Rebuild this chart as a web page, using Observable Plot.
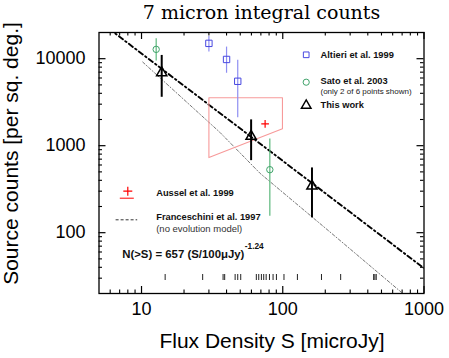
<!DOCTYPE html>
<html><head><meta charset="utf-8">
<script src="https://cdn.jsdelivr.net/npm/d3@7"></script>
<script src="https://cdn.jsdelivr.net/npm/@observablehq/plot@0.6"></script>
<style>
body{margin:0;background:#fff;}
#chart svg{display:block;}
</style></head><body><div id="chart"></div>
<script>
// ---- text ----
const titleText = "7 micron integral counts";
const xLabel = "Flux Density S [microJy]";
const yLabel = "Source counts [per sq. deg.]";
const xTicks = [10, 100, 1000];
const yTicks = [100, 1000, 10000];
const xMinor = [6,7,8,9,20,30,40,50,60,70,80,90,200,300,400,500,600,700,800,900];
const yMinor = [30,40,50,60,70,80,90,200,300,400,500,600,700,800,900,2000,3000,4000,5000,6000,7000,8000,9000];

// ---- data ----
const altieriS  = [30, 40, 48];
const altieriN  = [15000, 9800, 5500];
const altieriLo = [11900, 6800, 2100];
const altieriHi = [18000, 13600, 9600];

const satoS  = [12.7, 81];
const satoN  = [12800, 530];
const satoLo = [9400, 155];
const satoHi = [17000, 1190];

const thisS  = [13.9, 59.7, 161];
const thisN  = [6900, 1280, 343];
const thisLo = [3600, 673, 148];
const thisHi = [10900, 1980, 555];

const ausselS = [75];
const ausselN = [1780];

const boxS = [30, 99.5, 99.5, 30, 30];
const boxN = [3560, 3560, 1570, 730, 3560];

const fitS = [5, 1000];
const fitN = [27000, 39];

const franS = [10.2, 35.9, 69.2, 219, 700];
const franN = [9140, 1423, 480, 100, 20.3];

const rugS = [14.7, 27.1, 37.8, 38.8, 46.0, 48.0, 50.4, 65.0, 67.6, 70.6, 73.3, 76.3, 80.5, 85.4, 90.2, 102, 127, 188, 257, 440, 449, 459];

const legendRight = ["Altieri et al. 1999", "Sato et al. 2003", "This work"];
const legendNote = "(only 2 of 6 points shown)";
const legendLeft = ["Aussel et al. 1999", "Franceschini et al. 1997"];
const legendLeftNote = "(no evolution model)";
const formulaText = "N(>S) = 657 (S/100\u03bcJy)";
const formulaExp = "-1.24";

// ---- tables ----
const zip = (S, N, lo, hi) => S.map((s, i) => ({s, n: N[i], lo: lo ? lo[i] : null, hi: hi ? hi[i] : null}));
const altieri = zip(altieriS, altieriN, altieriLo, altieriHi);
const sato = zip(satoS, satoN, satoLo, satoHi);
const thiswork = zip(thisS, thisN, thisLo, thisHi);
const aussel = zip(ausselS, ausselN);
const box = zip(boxS, boxN);
const fit = zip(fitS, fitN);
const fran = zip(franS, franN);

const W = 449, H = 358, mL = 98.5, mR = 25.5, mT = 32, mB = 65;
const fw = W - mL - mR, fh = H - mT - mB;
const blue = "#4848e0", blueBar = "#8e8ef2";
const green = "#3fa36a", greenBar = "#5cb87c";
const red = "#ff0000", pink = "#f79a9a";
const sans = "Liberation Sans, Arial, Helvetica, sans-serif";

const hline = (half) => ({draw(ctx) { ctx.moveTo(-half, 0); ctx.lineTo(half, 0); }});
const one = [0];
const lbl = (txt, o) => Plot.text([txt], {text: d => d, frameAnchor: "top-left", textAnchor: "start", lineAnchor: "middle", fill: "#111", ...o});

const plot = Plot.plot({
  width: W, height: H,
  marginLeft: mL, marginRight: mR, marginTop: mT, marginBottom: mB,
  style: {fontFamily: sans, fontSize: "18px", color: "black", background: "white"},
  x: {type: "log", domain: [5, 1000]},
  y: {type: "log", domain: [20, 20000]},
  marks: [
    // ticks (inward, all four sides)
    Plot.ruleX(xTicks, {x: d => d, insetTop: fh - 7, stroke: "black", strokeWidth: 1.2}),
    Plot.ruleX(xTicks, {x: d => d, insetBottom: fh - 7, stroke: "black", strokeWidth: 1.2}),
    Plot.ruleX(xMinor, {x: d => d, insetTop: fh - 3.5, stroke: "black", strokeWidth: 1.1}),
    Plot.ruleX(xMinor, {x: d => d, insetBottom: fh - 3.5, stroke: "black", strokeWidth: 1.1}),
    Plot.ruleY(yTicks, {y: d => d, insetRight: fw - 7, stroke: "black", strokeWidth: 1.2}),
    Plot.ruleY(yTicks, {y: d => d, insetLeft: fw - 7, stroke: "black", strokeWidth: 1.2}),
    Plot.ruleY(yMinor, {y: d => d, insetRight: fw - 3.5, stroke: "black", strokeWidth: 1.1}),
    Plot.ruleY(yMinor, {y: d => d, insetLeft: fw - 3.5, stroke: "black", strokeWidth: 1.1}),
    Plot.axisX({ticks: xTicks, tickSize: 0, tickPadding: 9, tickFormat: d => String(d), label: null, fontSize: 18}),
    Plot.axisY({ticks: yTicks, tickSize: 0, tickPadding: 13.5, tickFormat: d => String(d), label: null, fontSize: 18}),

    // rug of source fluxes
    Plot.ruleX(rugS, {x: d => d, insetTop: 242, insetBottom: 13, stroke: "#222", strokeWidth: 1}),

    // model lines
    Plot.line(fran, {x: "s", y: "n", stroke: "#666", strokeWidth: 0.9, strokeDasharray: "3,2,1,2", clip: true}),
    Plot.line(fit, {x: "s", y: "n", stroke: "black", strokeWidth: 1.9, strokeDasharray: "5,3,1.5,3", clip: true}),

    // Aussel region
    Plot.line(box, {x: "s", y: "n", stroke: pink, strokeWidth: 1.1}),
    Plot.dot(aussel, {x: "s", y: "n", symbol: "plus", r: 2.6, stroke: red, strokeWidth: 1.2}),

    // error bars and points
    Plot.ruleX(altieri, {x: "s", y1: "lo", y2: "hi", stroke: blueBar, strokeWidth: 1.2}),
    Plot.dot(altieri, {x: "s", y: "n", symbol: "square", r: 3.6, stroke: blue, strokeWidth: 1, fill: "none"}),
    Plot.ruleX(sato, {x: "s", y1: "lo", y2: "hi", stroke: greenBar, strokeWidth: 1.2}),
    Plot.dot(sato, {x: "s", y: "n", symbol: "circle", r: 3.2, stroke: green, strokeWidth: 1, fill: "none"}),
    Plot.ruleX(thiswork, {x: "s", y1: "lo", y2: "hi", stroke: "black", strokeWidth: 2}),
    Plot.dot(thiswork, {x: "s", y: "n", symbol: "triangle", r: 3.8, stroke: "black", strokeWidth: 1.5, fill: "none"}),

    // frame
    Plot.frame({stroke: "black", strokeWidth: 1.3}),

    // right legend
    Plot.dot(one, {frameAnchor: "top-left", dx: 207.2, dy: 22.3, symbol: "square", r: 3.2, stroke: blue, strokeWidth: 1}),
    Plot.dot(one, {frameAnchor: "top-left", dx: 207.2, dy: 49.7, symbol: "circle", r: 3.1, stroke: green, strokeWidth: 1}),
    Plot.dot(one, {frameAnchor: "top-left", dx: 207.2, dy: 73, symbol: "triangle", r: 3.6, stroke: "black", strokeWidth: 1.4}),
    lbl(legendRight[0], {dx: 221.5, dy: 22.3, fontWeight: "bold", fontSize: 9.3}),
    lbl(legendRight[1], {dx: 221.5, dy: 49, fontWeight: "bold", fontSize: 9.3}),
    lbl(legendNote, {dx: 221.5, dy: 58.7, fontSize: 8, fill: "#222"}),
    lbl(legendRight[2], {dx: 221.5, dy: 72.3, fontWeight: "bold", fontSize: 9.3}),

    // left legend
    Plot.dot(one, {frameAnchor: "top-left", dx: 28.8, dy: 158.7, symbol: "plus", r: 3, stroke: red, strokeWidth: 1.2}),
    Plot.dot(one, {frameAnchor: "top-left", dx: 27.8, dy: 165.7, symbol: hline(7), stroke: red, strokeWidth: 1}),
    Plot.dot(one, {frameAnchor: "top-left", dx: 27.4, dy: 187.3, symbol: hline(10.8), stroke: "#333", strokeWidth: 1, strokeDasharray: "3,2"}),
    lbl(legendLeft[0], {dx: 57.2, dy: 161, fontWeight: "bold", fontSize: 9.3}),
    lbl(legendLeft[1], {dx: 57.2, dy: 185, fontWeight: "bold", fontSize: 9.3}),
    lbl(legendLeftNote, {dx: 57.2, dy: 196, fontSize: 9.5, fill: "#333"}),
    lbl(formulaText, {dx: 23.2, dy: 221.7, fontWeight: "bold", fontSize: 11.4}),
    lbl(formulaExp, {dx: 145.8, dy: 214.3, fontWeight: "bold", fontSize: 8.3}),

    // titles
    Plot.text([titleText], {text: d => d, frameAnchor: "top", textAnchor: "middle", lineAnchor: "middle", dy: -19.8, fontFamily: "DejaVu Serif", fontSize: 19, fill: "black"}),
    Plot.text([xLabel], {text: d => d, frameAnchor: "bottom", textAnchor: "middle", lineAnchor: "middle", dx: 10.5, dy: 47.6, fontSize: 21, fill: "black"}),
    Plot.text([yLabel], {text: d => d, frameAnchor: "left", textAnchor: "middle", lineAnchor: "middle", dx: -87.7, dy: -9.5, rotate: -90, fontSize: 21, fill: "black"})
  ]
});
document.getElementById("chart").appendChild(plot);
</script></body></html>
